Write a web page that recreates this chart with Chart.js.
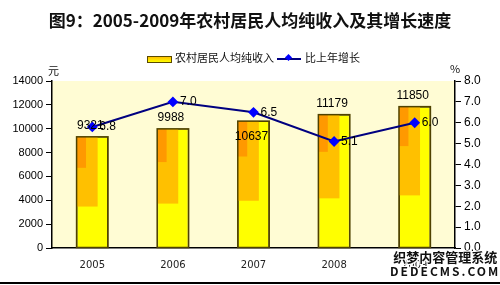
<!DOCTYPE html>
<html>
<head>
<meta charset="utf-8">
<script src="https://cdn.jsdelivr.net/npm/chart.js@4.4.1/dist/chart.umd.min.js"></script>
<style>
  body { margin: 0; background: #fff; }
  #wrap { position: relative; width: 500px; height: 285px; overflow: hidden; font-family: "Noto Sans CJK SC", sans-serif; }
  #title { position: absolute; left: 0; width: 500px; top: 7px; text-align: center; font-size: 17px; font-weight: bold; color: #111; }
  .legend { position: absolute; top: 50px; font-size: 11px; color: #111; line-height: 15px; }
  .unit { position: absolute; font-size: 11px; color: #111; }
  #mark { position: absolute; left: 390px; top: 250px; font-weight: bold; color: #111; text-shadow: 1px 1px 0 #fff, -1px -1px 0 #fff, 1px -1px 0 #fff, -1px 1px 0 #fff; text-align: center; line-height: 14px; }
  #line { position: absolute; left: 0; top: 282px; width: 500px; height: 2px; background: #000; }
</style>
</head>
<body>
<div id="wrap">
  <canvas id="myChart" width="500" height="285"></canvas>
  <div id="title">图9：2005-2009年农村居民人均纯收入及其增长速度</div>
  <div class="legend" style="left:147px;"><span style="display:inline-block;width:23px;height:5px;border:1px solid #5a4a00;background:linear-gradient(#ffc000,#ffff00);vertical-align:middle;margin-right:3px"></span>农村居民人均纯收入</div>
  <div class="legend" style="left:277px;"><span style="position:relative;display:inline-block;width:24px;height:2px;background:#000080;vertical-align:middle;margin-right:4px"><span style="position:absolute;left:9px;top:-3px;width:5px;height:5px;background:#0000ff;transform:rotate(45deg)"></span></span>比上年增长</div>
  <div class="unit" style="left:48px;top:62px;">元</div>
  <div class="unit" style="left:450px;top:60px;">%</div>
  <div id="mark"><div style="font-size:13px;">织梦内容管理系统</div><div style="font-size:12px;letter-spacing:2px;">DEDECMS.COM</div></div>
  <div id="line"></div>
</div>
<script>
const years = ["2005", "2006", "2007", "2008", "2009"];
const income = [9321, 9988, 10637, 11179, 11850];
const growth = [5.8, 7.0, 6.5, 5.1, 6.0];
const growthLabels = ["6.8", "7.0", "6.5", "5.1", "6.0"];

// pale plot background
const plotBg = {
  id: "plotBg",
  beforeDraw(chart) {
    const { ctx, chartArea: a } = chart;
    ctx.save();
    ctx.fillStyle = "#fffcd4";
    ctx.fillRect(a.left, a.top, a.right - a.left, a.bottom - a.top);
    ctx.restore();
  }
};

// orange shading inside the bars (bar dataset is index 1)
const barShade = {
  id: "barShade",
  afterDatasetDraw(chart, args) {
    if (args.index !== 1) return;
    const ctx = chart.ctx;
    chart.getDatasetMeta(1).data.forEach((bar) => {
      const left = bar.x - bar.width / 2;
      const h = bar.base - bar.y;
      ctx.save();
      ctx.fillStyle = "#ffc000";
      ctx.fillRect(left, bar.y, bar.width * 0.67, h * 0.63);
      ctx.fillStyle = "#ff9900";
      ctx.fillRect(left, bar.y, bar.width * 0.3, h * 0.28);
      ctx.strokeStyle = "#4f4200";
      ctx.lineWidth = 1.5;
      ctx.strokeRect(left, bar.y, bar.width, h);
      ctx.restore();
    });
  }
};

// value labels
const valueLabels = {
  id: "valueLabels",
  afterDatasetsDraw(chart) {
    const ctx = chart.ctx;
    ctx.save();
    ctx.font = "12px Arial";
    ctx.fillStyle = "#000";
    ctx.textBaseline = "middle";
    ctx.textAlign = "center";
    chart.getDatasetMeta(1).data.forEach((bar, i) => {
      const inside = i === 2;
      ctx.fillText(income[i], bar.x - 2, inside ? bar.y + 16 : bar.y - 11);
    });
    ctx.textAlign = "left";
    chart.getDatasetMeta(0).data.forEach((pt, i) => {
      ctx.fillText(growthLabels[i], pt.x + 7, pt.y);
    });
    ctx.restore();
  }
};

new Chart("myChart", {
  data: {
    labels: years,
    datasets: [
      {
        type: "line",
        label: "比上年增长",
        data: growth,
        yAxisID: "y1",
        borderColor: "#000080",
        borderWidth: 2,
        pointStyle: "rectRot",
        pointRadius: 4,
        pointBackgroundColor: "#0000ff",
        pointBorderColor: "#0000ff",
        order: 0
      },
      {
        type: "bar",
        label: "农村居民人均纯收入",
        data: income,
        yAxisID: "y",
        backgroundColor: "#ffff00",
        borderColor: "#4f4200",
        borderWidth: 1,
        barPercentage: 0.39,
        categoryPercentage: 1,
        order: 1
      }
    ]
  },
  options: {
    responsive: false,
    animation: false,
    layout: { padding: { top: 81, left: 0, right: 0, bottom: 0 } },
    plugins: { legend: { display: false }, title: { display: false }, tooltip: { enabled: false } },
    scales: {
      x: {
        offset: true,
        grid: { display: false, drawTicks: false },
        border: { color: "#000", width: 1.5 },
        ticks: { color: "#222", font: { size: 10, family: "DejaVu Sans" }, padding: 11 },
        afterFit(s) { s.height = 37; }
      },
      y: {
        position: "left",
        min: 0, max: 14000,
        ticks: { stepSize: 2000, color: "#000", font: { size: 11, family: "Arial" }, padding: 3,
          callback: (v) => String(v) },
        grid: { drawOnChartArea: false, tickLength: 6, color: "#000" },
        border: { color: "#000", width: 1.5 },
        afterFit(s) { s.width = 52; }
      },
      y1: {
        position: "right",
        min: 0, max: 8,
        ticks: { stepSize: 1, color: "#000", font: { size: 12, family: "Arial" }, padding: 3,
          callback: (v) => v.toFixed(1) },
        grid: { drawOnChartArea: false, tickLength: 6, color: "#000" },
        border: { color: "#000", width: 1.5 },
        afterFit(s) { s.width = 45; }
      }
    }
  },
  plugins: [plotBg, barShade, valueLabels]
});
</script>
</body>
</html>
